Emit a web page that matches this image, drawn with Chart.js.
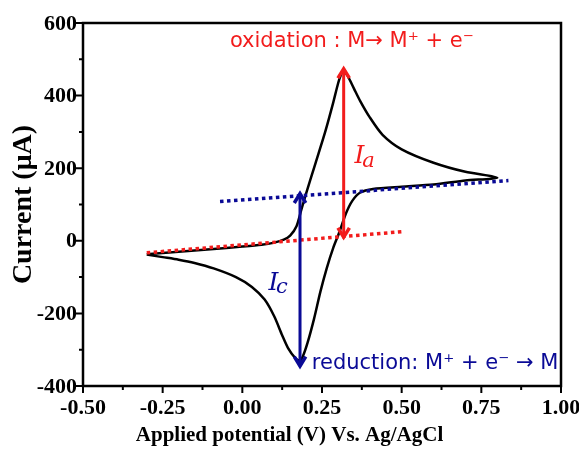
<!DOCTYPE html>
<html>
<head>
<meta charset="utf-8">
<script src="https://cdn.jsdelivr.net/npm/chart.js@4.4.1/dist/chart.umd.min.js"></script>
<style>
  html, body { margin: 0; padding: 0; background: #fff; }
  #wrap { width: 579px; height: 450px; }
</style>
</head>
<body>
<div id="wrap"><canvas id="cvChart"></canvas></div>
<script>
// cyclic voltammogram, one closed loop (forward scan then reverse scan)
const potential = [-0.30, -0.20, -0.10, 0.00, 0.06, 0.10, 0.13, 0.15, 0.17, 0.185, 0.20, 0.23, 0.26, 0.285, 0.30, 0.31, 0.318,
  0.33, 0.35, 0.37, 0.40, 0.44, 0.50, 0.60, 0.70, 0.80,
  0.70, 0.60, 0.50, 0.41, 0.37, 0.345, 0.325, 0.305, 0.285, 0.265, 0.245, 0.225, 0.205, 0.19, 0.18,
  0.165, 0.145, 0.125, 0.10, 0.07, 0.03, -0.02, -0.09, -0.15, -0.20, -0.25, -0.30];
const current = [-37, -30, -23, -16, -11, -5, 3, 14, 40, 85, 130, 215, 300, 380, 432, 458, 466,
  455, 420, 385, 340, 292, 252, 215, 190, 174,
  166, 155, 149, 143, 133, 110, 75, 25, -20, -75, -140, -215, -280, -318, -330,
  -322, -298, -260, -208, -162, -127, -100, -76, -61, -52, -45, -38];

// baselines (dotted)
const anodicBaseX = [-0.30, 0.50];
const anodicBaseY = [-33, 25];
const cathodicBaseX = [-0.07, 0.835];
const cathodicBaseY = [108, 166];

// peak current arrows
const iaX = [0.318, 0.318];
const iaY = [10, 474];
const icX = [0.181, 0.181];
const icY = [130, -345];

const xTicks = [-0.50, -0.25, 0.00, 0.25, 0.50, 0.75, 1.00];
const yTicks = [-400, -200, 0, 200, 400, 600];

const RED = '#f21c1c';
const BLUE = '#0a0a96';

function pts(xs, ys) {
  return xs.map((x, i) => ({ x: x, y: ys[i] }));
}

const SERIF = '"Liberation Serif", "Times New Roman", serif';

const extrasPlugin = {
  id: 'extras',
  afterDatasetsDraw(chart) {
    const c = chart.ctx;
    const xs = chart.scales.x, ys = chart.scales.y;
    const a = chart.chartArea;

    // arrowheads on both ends of the arrow datasets
    chart.data.datasets.forEach((ds, i) => {
      if (!ds.arrow) return;
      const meta = chart.getDatasetMeta(i);
      const p0 = meta.data[0], p1 = meta.data[1];
      [[p0, p1], [p1, p0]].forEach(([tip, from]) => {
        const ang = Math.atan2(tip.y - from.y, tip.x - from.x);
        c.save();
        c.strokeStyle = ds.borderColor;
        c.lineWidth = 3.5;
        c.lineCap = 'butt';
        c.lineJoin = 'miter';
        c.beginPath();
        c.moveTo(tip.x - 11 * Math.cos(ang - 0.55), tip.y - 11 * Math.sin(ang - 0.55));
        c.lineTo(tip.x, tip.y);
        c.lineTo(tip.x - 11 * Math.cos(ang + 0.55), tip.y - 11 * Math.sin(ang + 0.55));
        c.stroke();
        c.restore();
      });
    });

    // frame
    c.save();
    c.strokeStyle = '#000';
    c.lineWidth = 2.5;
    c.strokeRect(a.left, a.top, a.right - a.left, a.bottom - a.top);

    // ticks, major and minor, outward
    c.lineWidth = 2;
    c.beginPath();
    for (let v = -0.5; v <= 1.0001; v += 0.125) {
      const px = xs.getPixelForValue(v);
      const major = Math.abs(v * 4 - Math.round(v * 4)) < 1e-6;
      c.moveTo(px, a.bottom);
      c.lineTo(px, a.bottom + (major ? 7 : 4));
    }
    for (let v = -400; v <= 600; v += 100) {
      const py = ys.getPixelForValue(v);
      const major = v % 200 === 0;
      c.moveTo(a.left, py);
      c.lineTo(a.left - (major ? 7 : 4), py);
    }
    c.stroke();

    // tick labels
    c.fillStyle = '#000';
    c.font = 'bold 22px ' + SERIF;
    c.textBaseline = 'middle';
    c.textAlign = 'center';
    xTicks.forEach(v => c.fillText(v.toFixed(2), xs.getPixelForValue(v), a.bottom + 22));
    c.textAlign = 'right';
    yTicks.forEach(v => c.fillText(String(v), a.left - 6, ys.getPixelForValue(v) + 1));

    // annotations
    c.textAlign = 'left';
    c.fillStyle = RED;
    c.font = '21px "DejaVu Sans", Verdana, sans-serif';
    c.fillText('oxidation : M\u2192 M\u207A + e\u207B', xs.getPixelForValue(-0.039), ys.getPixelForValue(549));
    c.fillStyle = BLUE;
    c.fillText('reduction: M\u207A + e\u207B \u2192 M', xs.getPixelForValue(0.218), ys.getPixelForValue(-337));

    c.font = 'italic 25px "DejaVu Serif", "Liberation Serif", serif';
    c.fillStyle = RED;
    c.fillText('I', xs.getPixelForValue(0.352), ys.getPixelForValue(232));
    c.font = 'italic 21px "DejaVu Serif", "Liberation Serif", serif';
    c.fillText('a', xs.getPixelForValue(0.376), ys.getPixelForValue(218));
    c.font = 'italic 25px "DejaVu Serif", "Liberation Serif", serif';
    c.fillStyle = BLUE;
    c.fillText('I', xs.getPixelForValue(0.082), ys.getPixelForValue(-118));
    c.font = 'italic 21px "DejaVu Serif", "Liberation Serif", serif';
    c.fillText('c', xs.getPixelForValue(0.106), ys.getPixelForValue(-130));

    // axis titles
    c.fillStyle = '#000';
    c.font = 'bold 21px ' + SERIF;
    c.textAlign = 'center';
    c.fillText('Applied potential (V) Vs. Ag/AgCl', chart.width / 2, 436);
    c.font = 'bold 28px ' + SERIF;
    c.translate(24, (a.top + a.bottom) / 2);
    c.rotate(-Math.PI / 2);
    c.fillText('Current (\u03BCA)', 0, 0);
    c.restore();
  }
};

new Chart(document.getElementById('cvChart'), {
  type: 'scatter',
  data: {
    datasets: [
      {
        label: 'CV',
        data: pts(potential, current),
        showLine: true,
        borderColor: '#000',
        borderWidth: 2.5,
        pointRadius: 0,
        tension: 0.25,
        order: 3
      },
      {
        label: 'anodic baseline',
        data: pts(anodicBaseX, anodicBaseY),
        showLine: true,
        borderColor: RED,
        borderWidth: 3.5,
        borderDash: [3.5, 3.5],
        pointRadius: 0,
        order: 1
      },
      {
        label: 'cathodic baseline',
        data: pts(cathodicBaseX, cathodicBaseY),
        showLine: true,
        borderColor: BLUE,
        borderWidth: 3.5,
        borderDash: [3.5, 3.5],
        pointRadius: 0,
        order: 2
      },
      {
        label: 'Ia',
        data: pts(iaX, iaY),
        showLine: true,
        arrow: true,
        borderColor: RED,
        borderWidth: 3,
        pointRadius: 0,
        order: 0
      },
      {
        label: 'Ic',
        data: pts(icX, icY),
        showLine: true,
        arrow: true,
        borderColor: BLUE,
        borderWidth: 3,
        pointRadius: 0,
        order: 0
      }
    ]
  },
  options: {
    responsive: true,
    maintainAspectRatio: false,
    animation: false,
    layout: { padding: { top: 23, right: 18, left: 0, bottom: 0 } },
    plugins: {
      legend: { display: false },
      tooltip: { enabled: false }
    },
    scales: {
      x: {
        type: 'linear',
        min: -0.5,
        max: 1.0,
        grid: { display: false, drawTicks: false },
        border: { display: false },
        ticks: { display: false },
        afterFit: (s) => { s.height = 64; }
      },
      y: {
        type: 'linear',
        min: -400,
        max: 600,
        grid: { display: false, drawTicks: false },
        border: { display: false },
        ticks: { display: false },
        afterFit: (s) => { s.width = 83; }
      }
    }
  },
  plugins: [extrasPlugin]
});
</script>
</body>
</html>
